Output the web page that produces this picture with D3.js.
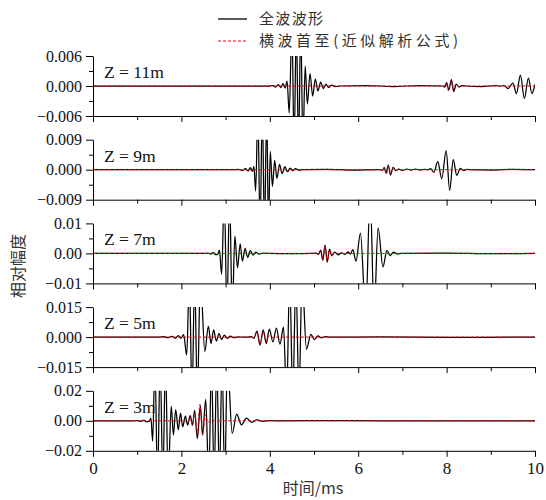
<!DOCTYPE html>
<html><head><meta charset="utf-8">
<script src="https://cdn.jsdelivr.net/npm/d3@7"></script>
<style>body{margin:0;background:#fff}svg{display:block}</style>
</head><body>
<svg id="chart" width="546" height="500"></svg>
<script>
// ---------- data ----------
const timeMajorTicks = [0, 2, 4, 6, 8, 10];
const timeMinorTicks = [1, 3, 5, 7, 9];
const depthLabels = ["Z = 11m", "Z = 9m", "Z = 7m", "Z = 5m", "Z = 3m"];
const ampLimits = [0.006, 0.009, 0.01, 0.015, 0.02];
const ampTickLabels = [
  ["−0.006", "0.000", "0.006"],
  ["−0.009", "0.000", "0.009"],
  ["−0.01", "0.00", "0.01"],
  ["−0.015", "0.000", "0.015"],
  ["−0.02", "0.00", "0.02"]
];
const legendLabels = ["全波波形", "横波首至(近似解析公式)"];
const xAxisTitle = "时间/ms";
const yAxisTitle = "相对幅度";

// full waveform, Z = 11 m  [time ms, amplitude]
const fullWave11 = [[0,0],[3.9,0],[4.00,0],[4.07,0.0001],[4.13,-0.0002],[4.19,0.0003],[4.25,-0.0003],[4.30,0.0005],[4.35,-0.0004],[4.39,0.0010],
 [4.44,-0.0054],[4.50,0.012],[4.55,-0.012],[4.60,0.012],[4.65,-0.012],[4.70,0.012],[4.75,-0.012],[4.80,0.0040],[4.85,-0.0036],
 [4.91,0.0025],[4.97,-0.0020],[5.03,0.0014],[5.09,-0.0010],[5.15,0.0008],[5.21,-0.0005],[5.27,0.0004],[5.33,-0.0003],[5.40,0.0002],
 [5.48,-0.0001],[5.60,0],[6.2,0.0001],[6.8,-0.0001],[7.4,0.0001],[7.90,0],[7.96,-0.0002],[8.00,0.0007],[8.05,-0.0008],[8.11,0.0013],
 [8.16,-0.0011],[8.22,0.0004],[8.28,-0.0002],[8.35,0.0001],[8.45,0],[8.8,-0.0001],[9.1,0.0001],[9.22,0],[9.30,0.0001],[9.39,-0.0005],
 [9.50,0.0006],[9.58,-0.0015],[9.67,0.0022],[9.76,-0.0025],[9.85,0.0016],[9.93,-0.0015],[10,0.0003]];
const shearWave11 = [[0,0],[7.95,0],[7.99,0.0005],[8.04,-0.0009],[8.10,0.0011],[8.15,-0.0007],[8.20,0.0003],[8.26,-0.0001],[8.33,0],[10,0]];

// Z = 9 m
const fullWave9 = [[0,0],[3.2,0],[3.30,0.0001],[3.38,-0.0002],[3.45,0.0003],[3.51,-0.0004],[3.56,0.0006],[3.61,-0.0005],[3.64,0.0010],
 [3.68,-0.0064],[3.73,0.018],[3.78,-0.018],[3.83,0.018],[3.88,-0.018],[3.93,0.018],[3.97,-0.018],[4.01,0.0055],[4.06,-0.0050],
 [4.11,0.0028],[4.16,-0.0026],[4.22,0.0016],[4.28,-0.0012],[4.34,0.0009],[4.40,-0.0006],[4.46,0.0005],[4.52,-0.0003],[4.58,0.0003],
 [4.65,-0.0001],[4.75,0],[5.3,0.0001],[5.9,-0.0001],[6.45,0],[6.50,0],[6.55,-0.0002],[6.59,0.0007],[6.63,-0.0011],[6.68,0.0014],
 [6.73,-0.0016],[6.79,0.0007],[6.85,-0.0003],[6.92,0.0002],[7.0,-0.0002],[7.1,0.0002],[7.2,-0.0001],[7.3,0.0002],[7.4,-0.0001],
 [7.5,0.0001],[7.58,0],[7.64,0.0003],[7.71,-0.0008],[7.80,0.0024],[7.89,-0.0027],[7.99,0.0057],[8.07,-0.0062],[8.15,0.0030],
 [8.23,-0.0017],[8.31,0.0004],[8.38,-0.0002],[8.46,0.0001],[8.55,0],[9.0,-0.0001],[9.5,0.0001],[10,0]];
const shearWave9 = [[0,0],[6.50,0],[6.55,-0.0002],[6.59,0.0006],[6.64,-0.0012],[6.69,0.0012],[6.74,-0.0013],[6.80,0.0005],[6.86,-0.0002],[6.93,0],[10,0]];

// Z = 7 m
const fullWave7 = [[0,0],[2.5,0],[2.60,0.0001],[2.66,-0.0002],[2.72,0.0003],[2.77,-0.0004],[2.82,-0.0003],[2.86,0.0011],[2.91,-0.0070],
 [2.97,0.02],[3.03,-0.02],[3.09,0.02],[3.15,-0.02],[3.21,0.0058],[3.27,-0.0048],[3.33,0.0032],[3.38,-0.0026],[3.44,0.0017],
 [3.50,-0.0013],[3.56,0.0009],[3.62,-0.0006],[3.68,0.0004],[3.75,-0.0002],[3.85,0.0001],[3.95,0],[4.5,-0.0001],[4.95,0],
 [5.05,0.0001],[5.10,-0.0003],[5.15,0.0011],[5.20,-0.0022],[5.25,0.0028],[5.30,-0.0028],[5.35,0.0014],[5.40,-0.0008],[5.47,0.0004],
 [5.55,-0.0005],[5.62,0.0002],[5.70,-0.0003],[5.77,0.0005],[5.82,-0.0002],[5.88,0.0013],[5.95,-0.0026],[6.05,0.0068],[6.17,-0.02],
 [6.27,0.02],[6.36,-0.02],[6.45,0.0085],[6.56,-0.0045],[6.65,0.0010],[6.72,-0.0007],[6.80,0.0004],[6.88,-0.0002],[6.98,0],
 [8.0,0.0001],[9.0,-0.0001],[10,0]];
const shearWave7 = [[0,0],[5.05,0],[5.10,-0.0003],[5.15,0.0010],[5.20,-0.0022],[5.25,0.0026],[5.30,-0.0030],[5.35,0.0012],[5.40,-0.0004],[5.46,0],[10,0]];

// Z = 5 m
const fullWave5 = [[0,0],[1.5,0],[1.60,0.0002],[1.70,-0.0003],[1.78,0.0004],[1.86,-0.0005],[1.93,0.0008],[1.99,-0.0006],[2.05,0.0012],
 [2.12,-0.0090],[2.18,0.03],[2.24,-0.03],[2.30,0.03],[2.36,-0.03],[2.43,0.03],[2.53,-0.0072],[2.61,0.0054],[2.67,-0.0032],
 [2.73,0.0036],[2.79,-0.0020],[2.85,0.0018],[2.91,-0.0012],[2.97,0.0010],[3.04,-0.0006],[3.11,0.0005],[3.19,-0.0003],[3.28,0.0001],
 [3.40,0],[3.50,0],[3.58,0.0003],[3.64,-0.0006],[3.71,0.0030],[3.78,-0.0040],[3.85,0.0036],[3.92,-0.0032],[3.99,0.0040],
 [4.07,-0.0024],[4.15,0.0045],[4.23,-0.0035],[4.31,0.0050],[4.38,-0.03],[4.45,0.03],[4.52,-0.03],[4.59,0.03],[4.66,-0.03],
 [4.73,0.03],[4.83,-0.0060],[4.93,0.0014],[5.01,-0.0012],[5.09,0.0006],[5.17,-0.0004],[5.26,0.0002],[5.36,0],[6.5,0.0001],
 [8.0,-0.0001],[10,0]];
const shearWave5 = [[0,0],[3.55,0],[3.64,-0.0004],[3.71,0.0025],[3.78,-0.0038],[3.85,0.0030],[3.92,-0.0022],[3.98,0.0008],[4.05,-0.0002],[4.12,0],[10,0]];

// Z = 3 m
const fullWave3 = [[0,0],[0.9,0],[1.00,0.0002],[1.08,-0.0003],[1.15,0.0004],[1.21,-0.0006],[1.27,-0.0004],[1.31,0.0018],[1.35,-0.0136],
 [1.40,0.04],[1.46,-0.04],[1.52,0.04],[1.58,-0.04],[1.64,0.04],[1.70,-0.04],[1.77,0.0098],[1.82,-0.0095],[1.87,0.0075],
 [1.93,-0.0060],[1.98,0.0052],[2.03,-0.0040],[2.09,0.0032],[2.14,-0.0028],[2.20,0.0035],[2.25,-0.0030],[2.30,0.0070],[2.36,-0.0118],
 [2.43,0.0100],[2.48,-0.0095],[2.55,0.0143],[2.62,-0.04],[2.68,0.04],[2.74,-0.04],[2.80,0.04],[2.86,-0.04],[2.92,0.04],
 [2.98,-0.04],[3.04,0.04],[3.15,-0.0084],[3.25,0.0045],[3.36,-0.0027],[3.47,0.0018],[3.59,-0.0010],[3.71,0.0006],[3.84,-0.0003],
 [4.00,0.0001],[4.15,0],[5.5,0.0001],[7.5,-0.0001],[10,0]];
const shearWave3 = [[0,0],[2.05,0],[2.14,-0.0010],[2.20,0.0025],[2.25,-0.0030],[2.30,0.0050],[2.36,-0.0085],[2.42,0.0110],[2.48,-0.0090],[2.54,0.0040],[2.60,-0.0010],[2.66,0],[10,0]];

const fullWaves = [fullWave11, fullWave9, fullWave7, fullWave5, fullWave3];
const shearWaves = [shearWave11, shearWave9, shearWave7, shearWave5, shearWave3];

// ---------- drawing ----------
const SERIF = '"Liberation Serif"';
const CJK = '"Noto Sans CJK SC"';
const svg = d3.select("#chart");
const x = d3.scaleLinear().domain([0, 10]).range([93, 535]);
const top0 = 56, step = 83.7, ph = 60;
const defs = svg.append("defs");

fullWaves.forEach((full, i) => {
  const lim = ampLimits[i];
  const top = top0 + i * step;
  const y = d3.scaleLinear().domain([-lim, lim]).range([top + ph, top]);
  const g = svg.append("g");
  const cid = "clip" + i;
  defs.append("clipPath").attr("id", cid).append("rect")
    .attr("x", x(0)).attr("y", top).attr("width", x(10) - x(0)).attr("height", ph);
  const ln = d3.line().x(d => x(d[0])).y(d => y(d[1])).curve(d3.curveMonotoneX);
  g.append("path").datum(full).attr("clip-path", `url(#${cid})`).attr("d", ln)
    .attr("fill", "none").attr("stroke", "#000").attr("stroke-width", 1.25);
  g.append("path").datum(shearWaves[i]).attr("clip-path", `url(#${cid})`).attr("d", ln)
    .attr("fill", "none").attr("stroke", "#e8000b").attr("stroke-width", 1).attr("stroke-dasharray", "3,2");

  // left axis
  const yMaj = d3.axisLeft(y).tickValues([-lim, 0, lim]).tickSize(7).tickSizeOuter(0).tickPadding(4)
    .tickFormat((d, j) => ampTickLabels[i][j]);
  const ya = g.append("g").attr("transform", `translate(${x(0)},0)`).call(yMaj);
  ya.selectAll("text").style("font-family", SERIF).style("font-size", "16px").attr("fill", "#111");
  const yMin = d3.axisLeft(y).tickValues([-lim / 2, lim / 2]).tickSize(4).tickSizeOuter(0).tickFormat("");
  g.append("g").attr("transform", `translate(${x(0)},0)`).call(yMin).select(".domain").remove();

  // bottom axis
  const xMaj = d3.axisBottom(x).tickValues(timeMajorTicks).tickSize(6).tickSizeOuter(0).tickPadding(5)
    .tickFormat(i === 4 ? d3.format("d") : "");
  const xa = g.append("g").attr("transform", `translate(0,${top + ph})`).call(xMaj);
  xa.selectAll("text").style("font-family", SERIF).style("font-size", "17px").attr("fill", "#111");
  const xMin = d3.axisBottom(x).tickValues(timeMinorTicks).tickSize(4).tickSizeOuter(0).tickFormat("");
  g.append("g").attr("transform", `translate(0,${top + ph})`).call(xMin).select(".domain").remove();
  g.selectAll(".domain, .tick line").attr("stroke", "#000").attr("stroke-width", 1);

  // depth label
  g.append("text").attr("x", x(0) + 11).attr("y", top + 22)
    .style("font-family", SERIF).style("font-size", "17.5px").attr("fill", "#111").text(depthLabels[i]);
});

// axis titles
svg.append("text").attr("x", 313).attr("y", 494).attr("text-anchor", "middle")
  .style("font-family", CJK).style("font-size", "16px").attr("fill", "#333").text(xAxisTitle);
svg.append("text").attr("transform", "translate(24,266) rotate(-90)").attr("text-anchor", "middle")
  .style("font-family", CJK).style("font-size", "16px").attr("fill", "#333").text(yAxisTitle);

// legend
const legend = svg.append("g");
const legendY = [19, 41];
legend.append("line").attr("x1", 218).attr("x2", 247).attr("y1", legendY[0]).attr("y2", legendY[0])
  .attr("stroke", "#000").attr("stroke-width", 1.3);
legend.append("line").attr("x1", 218).attr("x2", 248).attr("y1", legendY[1]).attr("y2", legendY[1])
  .attr("stroke", "#e8000b").attr("stroke-width", 1).attr("stroke-dasharray", "3,2");
const legendWidths = [64, 199];
legendLabels.forEach((t, k) => {
  legend.append("text").attr("x", 259).attr("y", legendY[k] + 5)
    .style("font-family", CJK).style("font-size", "15px").attr("fill", "#333")
    .attr("textLength", legendWidths[k]).attr("lengthAdjust", "spacing").text(t);
});
</script>
</body></html>
